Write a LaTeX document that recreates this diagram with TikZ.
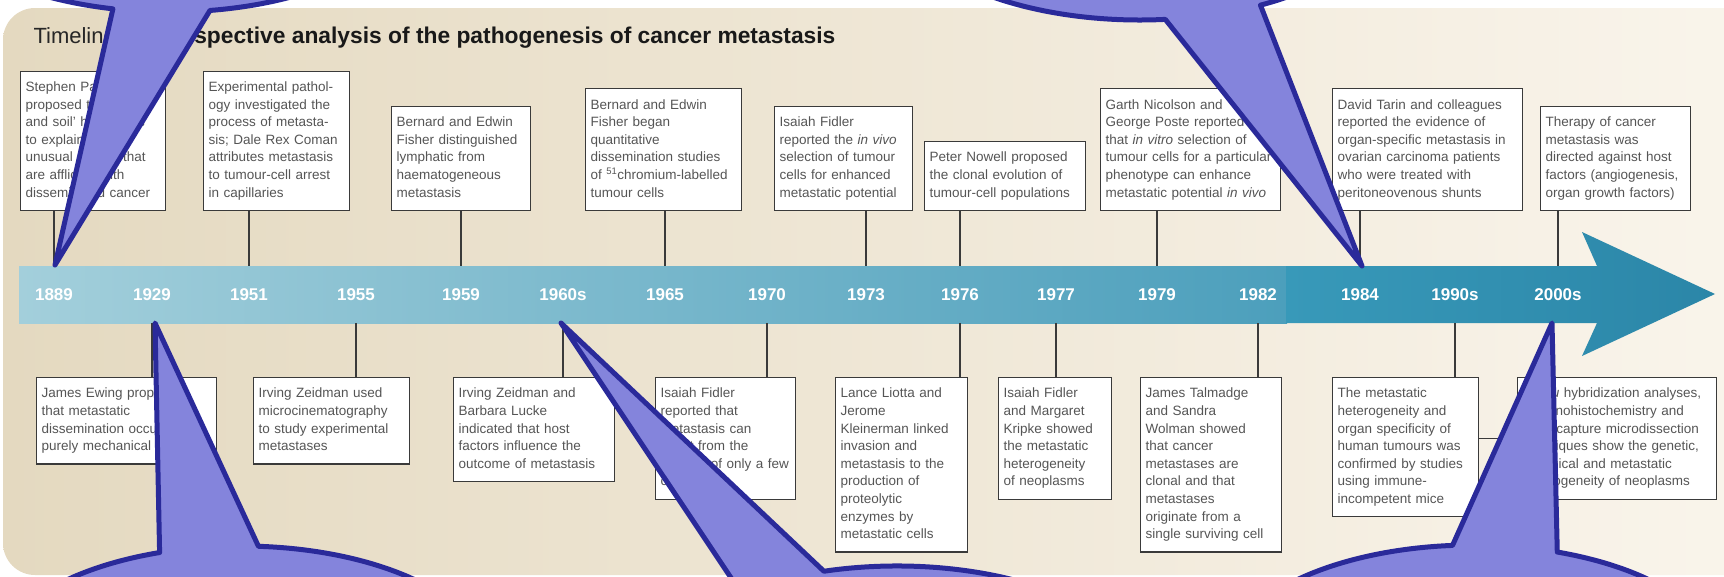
\documentclass[tikz,border=0pt]{standalone}
\usepackage{fontspec}
\setmainfont{Liberation Sans}

\definecolor{beigeL}{HTML}{E4D9C0}
\definecolor{beigeR}{HTML}{FAF5EC}
\definecolor{barA}{HTML}{A3CFDB}
\definecolor{barB}{HTML}{4C9FBC}
\definecolor{barC}{HTML}{3899B9}
\definecolor{barD}{HTML}{2B86A8}
\definecolor{boxtext}{HTML}{555555}
\definecolor{boxline}{HTML}{3A3A3A}
\definecolor{bubblefill}{HTML}{8484DC}
\definecolor{bubbleline}{HTML}{2A2A9A}

\tikzset{
  event/.style={draw=boxline, line width=1.1pt, fill=white, text=boxtext,
    align=left, inner xsep=5pt, inner ysep=8pt,
    font=\fontsize{13.5}{17.6}\selectfont,
    execute at begin node=\strut, execute at end node=\strut},
  yearlab/.style={text=white, anchor=base, font=\fontsize{17}{17}\selectfont\bfseries},
  conn/.style={draw=boxline, line width=1.1pt},
  bubble/.style={fill=bubblefill, draw=bubbleline, line width=5pt, line join=round}
}

\begin{document}
\begin{tikzpicture}[x=1pt, y=-1pt]
  \useasboundingbox (0,0) rectangle (1724,576);
  % background panel
  \shade[left color=beigeL, right color=beigeR, rounded corners=32pt] (3,8) rectangle (1780,575);

  % title
  \node[anchor=base west, font=\fontsize{22}{22}\selectfont, text=black!85] (tl) at (30,43) {Timeline};
  \node[anchor=base east, font=\fontsize{22.8}{22.8}\selectfont\bfseries, text=black!90] (title) at (839,43)
    {Retrospective analysis of the pathogenesis of cancer metastasis};

  % time arrow
  \shade[left color=barA, right color=barB] (19,266) rectangle (1287,323);
  \shade[left color=barC, right color=barD] (1286,266) -- (1597,266) -- (1582,232) -- (1715,294)
    -- (1582,356) -- (1597,323) -- (1286,323) -- cycle;
  \coordinate (bartop) at (0,266);
  \coordinate (barbot) at (0,323);

  \foreach \yr/\x in {1889/54, 1929/152, 1951/249, 1955/356, 1959/461, 1960s/563, 1965/665,
      1970/767, 1973/866, 1976/960, 1977/1056, 1979/1157, 1982/1258, 1984/1360, 1990s/1455, 2000s/1558}
    \node[yearlab] (y\yr) at (\x,300) {\yr};

  % events above
  \node[event, text width=135pt, anchor=south west] (b1) at (20,211)
    {Stephen Paget\\proposed the `seed\\and soil' hypothesis\\to explain the\\unusual organs that\\are afflicted with\\disseminated cancer};
  \node[event, text width=136pt, anchor=south west] (b2) at (203,211)
    {Experimental pathol-\\ogy investigated the\\process of metasta-\\sis; Dale Rex Coman\\attributes metastasis\\to tumour-cell arrest\\in capillaries};
  \node[event, text width=129pt, anchor=south west] (b3) at (391,211)
    {Bernard and Edwin\\Fisher distinguished\\lymphatic from\\haematogeneous\\metastasis};
  \node[event, text width=146pt, anchor=south west] (b4) at (585,211)
    {Bernard and Edwin\\Fisher began\\quantitative\\dissemination studies\\of \textsuperscript{51}chromium-labelled\\tumour cells};
  \node[event, text width=128pt, anchor=south west] (b5) at (774,211)
    {Isaiah Fidler\\reported the \textit{in vivo}\\selection of tumour\\cells for enhanced\\metastatic potential};
  \node[event, text width=151pt, anchor=south west] (b6) at (924,211)
    {Peter Nowell proposed\\the clonal evolution of\\tumour-cell populations};
  \node[event, text width=170pt, anchor=south west] (b7) at (1100,211)
    {Garth Nicolson and\\George Poste reported\\that \textit{in vitro} selection of\\tumour cells for a particular\\phenotype can enhance\\metastatic potential \textit{in vivo}};
  \node[event, text width=180pt, anchor=south west] (b8) at (1332,211)
    {David Tarin and colleagues\\reported the evidence of\\organ-specific metastasis in\\ovarian carcinoma patients\\who were treated with\\peritoneovenous shunts};
  \node[event, text width=140pt, anchor=south west] (b9) at (1540,211)
    {Therapy of cancer\\metastasis was\\directed against host\\factors (angiogenesis,\\organ growth factors)};

  % events below
  \node[event, text width=170pt, anchor=north west] (c1) at (36,377)
    {James Ewing proposed\\that metastatic\\dissemination occurs by\\purely mechanical factors};
  \node[event, text width=146pt, anchor=north west] (c2) at (253,377)
    {Irving Zeidman used\\microcinematography\\to study experimental\\metastases};
  \node[event, text width=151pt, anchor=north west] (c3) at (453,377)
    {Irving Zeidman and\\Barbara Lucke\\indicated that host\\factors influence the\\outcome of metastasis};
  \node[event, text width=130pt, anchor=north west] (c4) at (655,377)
    {Isaiah Fidler\\reported that\\metastasis can\\result from the\\survival of only a few\\cells};
  \node[event, text width=122pt, anchor=north west] (c5) at (835,377)
    {Lance Liotta and\\Jerome\\Kleinerman linked\\invasion and\\metastasis to the\\production of\\proteolytic\\enzymes by\\metastatic cells};
  \node[event, text width=103pt, anchor=north west] (c6) at (998,377)
    {Isaiah Fidler\\and Margaret\\Kripke showed\\the metastatic\\heterogeneity\\of neoplasms};
  \node[event, text width=131pt, anchor=north west] (c7) at (1140,377)
    {James Talmadge\\and Sandra\\Wolman showed\\that cancer\\metastases are\\clonal and that\\metastases\\originate from a\\single surviving cell};
  \node[event, text width=136pt, anchor=north west] (c8) at (1332,377)
    {The metastatic\\heterogeneity and\\organ specificity of\\human tumours was\\confirmed by studies\\using immune-\\incompetent mice};
  \node[event, text width=189pt, anchor=north west] (c9) at (1517,377)
    {\textit{In situ} hybridization analyses,\\immunohistochemistry and\\laser-capture microdissection\\techniques show the genetic,\\biological and metastatic\\heterogeneity of neoplasms};

  % links to the arrow
  \foreach \b/\yr in {b1/1889, b2/1951, b3/1959, b4/1965, b5/1973, b6/1976, b7/1979, b8/1984, b9/2000s}
    \draw[conn] (\b.south -| y\yr) -- (y\yr |- bartop);
  \foreach \c/\yr in {c1/1929, c2/1955, c3/1960s, c4/1970, c5/1976, c6/1977, c7/1982, c8/1990s}
    \draw[conn] (y\yr |- barbot) -- (\c.north -| y\yr);
  \draw[conn] (c9.west -| c8.east) -- (c9.west);

  % callouts
  \draw[bubble] (170,-108) ++(103.2:250 and 120) arc[start angle=103.2, end angle=440.8, x radius=250, y radius=120]
    -- (55,265) -- cycle;
  \draw[bubble] (1140,-100) ++(84.2:250 and 120) arc[start angle=84.2, end angle=421.2, x radius=250, y radius=120]
    -- (1362,266) -- cycle;
  \draw[bubble] (241,666) ++(-86:250 and 120) arc[start angle=-86, end angle=251, x radius=250, y radius=120]
    -- (155,323) -- cycle;
  \draw[bubble] (897,686) ++(-107:250 and 120) arc[start angle=-107, end angle=231.3, x radius=250, y radius=120]
    -- (561,323) -- cycle;
  \draw[bubble] (1473,665) ++(-70.3:250 and 120) arc[start angle=-70.3, end angle=265.3, x radius=250, y radius=120]
    -- (1552,323) -- cycle;
\end{tikzpicture}
\end{document}
